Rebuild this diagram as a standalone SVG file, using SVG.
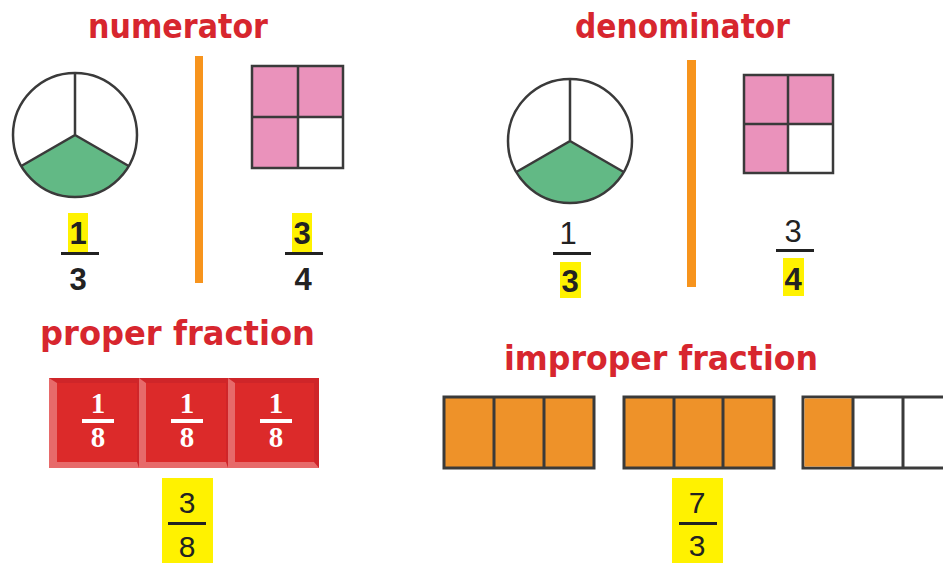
<svg xmlns="http://www.w3.org/2000/svg" width="943" height="563" viewBox="0 0 943 563">
  <style>
    .title { font-family: "DejaVu Sans", "Liberation Sans", sans-serif; font-weight: bold; font-size: 34px; fill: #d7262e; }
    .num { font-family: "Liberation Sans", Arial, sans-serif; font-size: 31px; fill: #222; text-anchor: middle; }
    .bold { font-weight: bold; }
    .big { font-size: 30px; }
    .tilenum { font-family: "Liberation Serif", "Times New Roman", serif; font-weight: bold; font-size: 29px; fill: #fff; text-anchor: middle; }
    .bar { fill: #222; }
    .hl { fill: #fff200; }
    .outline { fill: none; stroke: #3a3a3a; stroke-width: 2.5; }
    .divider { fill: #f7941d; }
    .green { fill: #62b985; }
    .pink { fill: #ea92bb; }
    .orange { fill: #ee9229; }
    .cell { stroke: #3a3a3a; stroke-width: 3; }
  </style>
  <rect width="943" height="563" fill="#fff"/>

  <!-- numerator panel -->
  <g id="numerator-title">
    <text class="title" x="88" y="38" textLength="180" lengthAdjust="spacingAndGlyphs">numerator</text>
  </g>
  <g id="numerator-circle">
    <path class="green" d="M75,135 L21.3,166 A62,62 0 0 0 128.7,166 Z"/>
    <circle class="outline" cx="75" cy="135" r="62"/>
    <path class="outline" d="M75,73 V135 L21.3,166 M75,135 L128.7,166"/>
  </g>
  <g id="numerator-circle-fraction">
    <rect class="hl" x="68" y="213" width="20" height="39"/>
    <text class="num bold" x="78" y="244">1</text>
    <rect class="bar" x="61" y="252" width="38" height="3"/>
    <text class="num bold" x="78" y="290">3</text>
  </g>
  <g id="numerator-divider">
    <rect class="divider" x="195" y="56" width="8" height="227"/>
  </g>
  <g id="numerator-square">
    <rect class="pink" x="252" y="66" width="91" height="102"/>
    <rect fill="#fff" x="298" y="117" width="45" height="51"/>
    <rect class="outline" x="252" y="66" width="91" height="102"/>
    <path class="outline" d="M298,66 V168 M252,117 H343"/>
  </g>
  <g id="numerator-square-fraction">
    <rect class="hl" x="292" y="213" width="20" height="39"/>
    <text class="num bold" x="302" y="244">3</text>
    <rect class="bar" x="285" y="252" width="38" height="3"/>
    <text class="num bold" x="303" y="290">4</text>
  </g>

  <!-- denominator panel -->
  <g id="denominator-title">
    <text class="title" x="575" y="38" textLength="215" lengthAdjust="spacingAndGlyphs">denominator</text>
  </g>
  <g id="denominator-circle">
    <path class="green" d="M570,141 L516.3,172 A62,62 0 0 0 623.7,172 Z"/>
    <circle class="outline" cx="570" cy="141" r="62"/>
    <path class="outline" d="M570,79 V141 L516.3,172 M570,141 L623.7,172"/>
  </g>
  <g id="denominator-circle-fraction">
    <text class="num" x="568" y="244">1</text>
    <rect class="bar" x="553" y="252" width="38" height="3"/>
    <rect class="hl" x="560" y="262" width="21" height="36"/>
    <text class="num bold" x="570" y="292">3</text>
  </g>
  <g id="denominator-divider">
    <rect class="divider" x="687" y="60" width="9" height="227"/>
  </g>
  <g id="denominator-square">
    <rect class="pink" x="744" y="75" width="89" height="98"/>
    <rect fill="#fff" x="788" y="124" width="45" height="49"/>
    <rect class="outline" x="744" y="75" width="89" height="98"/>
    <path class="outline" d="M788,75 V173 M744,124 H833"/>
  </g>
  <g id="denominator-square-fraction">
    <text class="num" x="793" y="242">3</text>
    <rect class="bar" x="776" y="249" width="38" height="3"/>
    <rect class="hl" x="783" y="258" width="21" height="38"/>
    <text class="num bold" x="793" y="290">4</text>
  </g>

  <!-- proper fraction -->
  <g id="proper-title">
    <text class="title" x="40" y="345" textLength="275" lengthAdjust="spacingAndGlyphs">proper fraction</text>
  </g>
  <g id="proper-tiles">
    <g id="tile-1">
      <rect x="49" y="378" width="90" height="90" fill="#e76a6a"/>
      <polygon points="49,378 139,378 139,468 137,462 137,383 57,383" fill="#cf2529"/>
      <rect x="57" y="383" width="80" height="79" fill="#dc2a2a"/>
      <text class="tilenum" x="98" y="413">1</text>
      <rect x="82" y="419" width="32" height="4" fill="#fff"/>
      <text class="tilenum" x="98" y="447">8</text>
    </g>
    <g id="tile-2">
      <rect x="139" y="378" width="89" height="90" fill="#e76a6a"/>
      <polygon points="139,378 228,378 228,468 226,462 226,383 146,383" fill="#cf2529"/>
      <rect x="146" y="383" width="80" height="79" fill="#dc2a2a"/>
      <text class="tilenum" x="187" y="413">1</text>
      <rect x="171" y="419" width="32" height="4" fill="#fff"/>
      <text class="tilenum" x="187" y="447">8</text>
    </g>
    <g id="tile-3">
      <rect x="228" y="378" width="91" height="90" fill="#e76a6a"/>
      <polygon points="228,378 319,378 319,468 314,462 314,383 235,383" fill="#cf2529"/>
      <rect x="235" y="383" width="79" height="79" fill="#dc2a2a"/>
      <text class="tilenum" x="276" y="413">1</text>
      <rect x="260" y="419" width="32" height="4" fill="#fff"/>
      <text class="tilenum" x="276" y="447">8</text>
    </g>
  </g>
  <g id="proper-result">
    <rect class="hl" x="162" y="478" width="51" height="85"/>
    <text class="num big" x="187" y="513">3</text>
    <rect class="bar" x="168" y="522" width="38" height="3"/>
    <text class="num big" x="187" y="557">8</text>
  </g>

  <!-- improper fraction -->
  <g id="improper-title">
    <text class="title" x="504" y="370" textLength="314" lengthAdjust="spacingAndGlyphs">improper fraction</text>
  </g>
  <g id="improper-whole-1">
    <rect class="orange cell" x="444" y="397" width="150" height="71"/>
    <path class="cell" d="M494,397 V468 M544,397 V468"/>
  </g>
  <g id="improper-whole-2">
    <rect class="orange cell" x="624" y="397" width="150" height="71"/>
    <path class="cell" d="M674,397 V468 M723,397 V468"/>
  </g>
  <g id="improper-partial">
    <rect fill="#fff" class="cell" x="803" y="397" width="152" height="71"/>
    <rect class="orange" x="804.5" y="398.5" width="48" height="68"/>
    <path class="cell" d="M853,397 V468 M903,397 V468"/>
  </g>
  <g id="improper-result">
    <rect class="hl" x="672" y="478" width="51" height="85"/>
    <text class="num big" x="697" y="513">7</text>
    <rect class="bar" x="679" y="522" width="38" height="3"/>
    <text class="num big" x="697" y="556">3</text>
  </g>
</svg>
